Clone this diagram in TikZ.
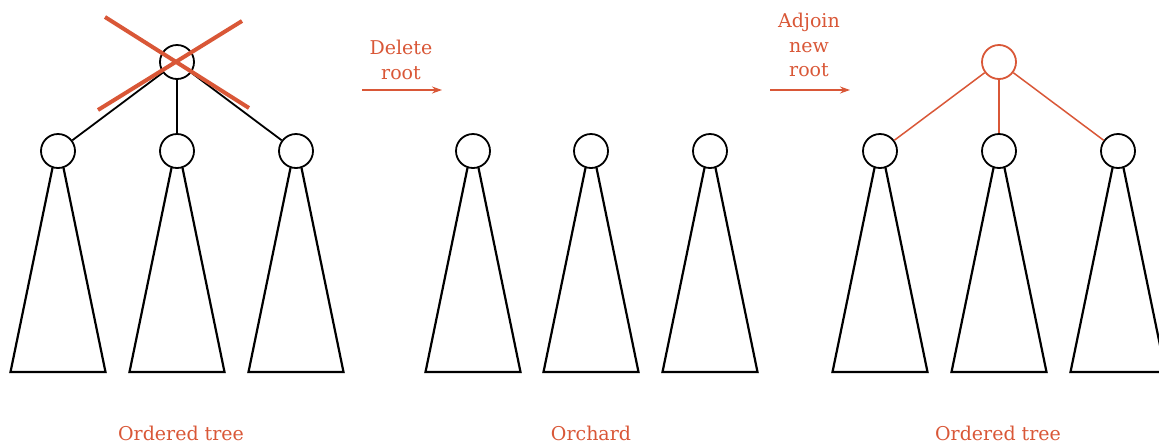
\documentclass[tikz,border=0pt]{standalone}
\usepackage{fontspec}
\setmainfont{DejaVu Serif}
\usepackage{tikz}
\usetikzlibrary{arrows.meta,positioning}
\definecolor{delorange}{RGB}{217,87,55}

\begin{document}
\begin{tikzpicture}[
    x=1pt,y=-1pt,
    vertex/.style={circle,draw=black,line width=1.8pt,minimum size=34pt,inner sep=0pt,fill=white},
    newvertex/.style={vertex,draw=delorange},
    edge/.style={line width=1.8pt},
    newedge/.style={line width=1.5pt,draw=delorange},
    subtree/.style={line width=2.2pt,line join=miter},
    cross/.style={line width=4pt,draw=delorange},
    arrow/.style={-{Stealth[length=10pt,width=7pt]},line width=1.2pt,draw=delorange},
    labelstyle/.style={text=delorange,align=center,font=\fontsize{19}{24.5}\selectfont}
]
\useasboundingbox (0,0) rectangle (1159,445);

% ordered tree (root deleted)
\node[vertex] (L) at (177,62) {};
\node[vertex] (L1) at (58,151) {};
\node[vertex] (L2) at (177,151) {};
\node[vertex] (L3) at (296,151) {};
\draw[edge] (L) -- (L1);
\draw[edge] (L) -- (L2);
\draw[edge] (L) -- (L3);
\draw[cross] (L) ++(-72,-45) -- ++(144,91);
\draw[cross] (L) ++(65,-41) -- ++(-144,89);

% orchard
\node[vertex] (M1) at (473,151) {};
\node[vertex] (M2) at (591,151) {};
\node[vertex] (M3) at (710,151) {};

% ordered tree (new root)
\node[newvertex] (R) at (999,62) {};
\node[vertex] (R1) at (880,151) {};
\node[vertex] (R2) at (999,151) {};
\node[vertex] (R3) at (1118,151) {};
\draw[newedge] (R) -- (R1);
\draw[newedge] (R) -- (R2);
\draw[newedge] (R) -- (R3);

% subtrees
\foreach \v in {L1,L2,L3,M1,M2,M3,R1,R2,R3}{
  \coordinate (\v-bl) at ([xshift=-47.5pt,yshift=-221pt]\v.center);
  \coordinate (\v-br) at ([xshift=47.5pt,yshift=-221pt]\v.center);
  \draw[subtree] (\v.252) -- (\v-bl) -- (\v-br) -- (\v.288);
}

% arrows
\coordinate (d1) at (362,90);
\coordinate (d2) at (442,90);
\draw[arrow] (d1) -- (d2);
\node[labelstyle] (del) at (401,60) {Delete\\root};
\coordinate (a1) at (770,90);
\coordinate (a2) at (850,90);
\draw[arrow] (a1) -- (a2);
\node[labelstyle] (adj) at (809,45) {Adjoin\\new\\root};

% captions
\node[labelstyle] (capL) at (181,433) {Ordered tree};
\node[labelstyle] (capM) at (591,433) {Orchard};
\node[labelstyle] (capR) at (998,433) {Ordered tree};

\end{tikzpicture}
\end{document}
